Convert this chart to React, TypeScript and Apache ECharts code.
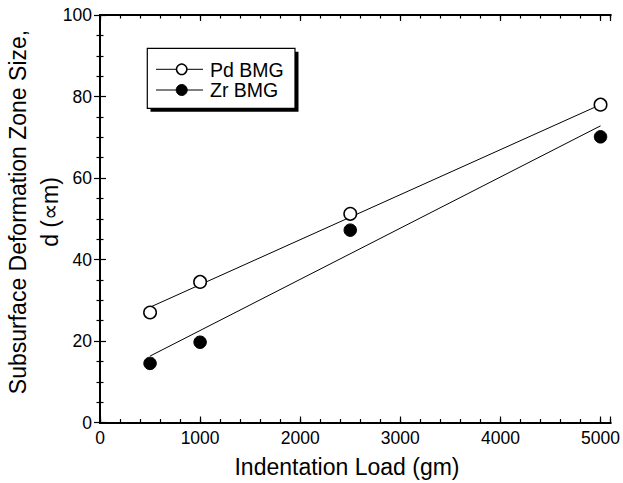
import React, { useEffect, useRef } from "react";
import * as echarts from "echarts";

const loads = [500, 1000, 2500, 5000];
const pdSize = [27.0, 34.5, 51.2, 78.0];
const zrSize = [14.5, 19.7, 47.2, 70.1];
const pdFit = [[500, 28.3], [5000, 78.0]];
const zrFit = [[500, 16.3], [5000, 72.8]];
const xMajorTicks = [0, 1000, 2000, 3000, 4000, 5000];
const yTickLabels = [0, 20, 40, 60, 80, 100];
const seriesNames = ["Pd BMG", "Zr BMG"];

const FONT = "'Liberation Sans', Arial, Helvetica, sans-serif";

export default function App() {
  const ref = useRef<HTMLDivElement>(null);
  useEffect(() => {
    if (!ref.current) return;
    const chart = echarts.init(ref.current, undefined, { renderer: "svg" });
    const axisLine = { show: true, lineStyle: { color: "#000", width: 2 } };
    const xBase = (pos: string, interval: number, tickLen: number, labels: boolean) => ({
      type: "value",
      position: pos,
      min: 0,
      max: 5100,
      interval,
      axisLine,
      splitLine: { show: false },
      axisTick: {
        show: true,
        inside: true,
        length: tickLen,
        lineStyle: { color: "#000", width: 1.2 },
      },
      axisLabel: labels
        ? {
            show: true,
            margin: 6,
            fontSize: 17.5,
            fontFamily: FONT,
            color: "#000",
            formatter: (v: number) => (xMajorTicks.includes(v) ? String(v) : ""),
          }
        : { show: false },
    });
    const yBase = (pos: string, labels: boolean) => ({
      type: "value",
      position: pos,
      min: 0,
      max: 100,
      interval: 20,
      axisLine,
      splitLine: { show: false },
      axisTick: {
        show: true,
        inside: true,
        length: 6,
        lineStyle: { color: "#000", width: 1.2 },
      },
      minorTick: {
        show: true,
        splitNumber: 4,
        length: 3.5,
        lineStyle: { color: "#000", width: 1.2 },
      },
      minorSplitLine: { show: false },
      axisLabel: labels
        ? {
            show: true,
            margin: 8,
            fontSize: 17.5,
            fontFamily: FONT,
            color: "#000",
            formatter: (v: number) => (yTickLabels.includes(v) ? String(v) : ""),
          }
        : { show: false },
    });

    const markerOpen = {
      color: "#fff",
      borderColor: "#000",
      borderWidth: 1.5,
      opacity: 1,
    };
    const markerFilled = { color: "#000", borderColor: "#000", borderWidth: 1, opacity: 1 };

    chart.setOption({
      animation: false,
      backgroundColor: "#fff",
      grid: { left: 100, right: 11, top: 15, bottom: 60.5, containLabel: false },
      xAxis: [
        xBase("bottom", 1000, 6, true),
        xBase("bottom", 200, 3.5, false),
        xBase("top", 1000, 6, false),
        xBase("top", 200, 3.5, false),
      ],
      yAxis: [yBase("left", true), yBase("right", false)],
      series: [
        {
          name: seriesNames[0] + " fit",
          type: "line",
          data: pdFit,
          symbol: "none",
          lineStyle: { color: "#000", width: 1 },
          z: 2,
        },
        {
          name: seriesNames[1] + " fit",
          type: "line",
          data: zrFit,
          symbol: "none",
          lineStyle: { color: "#000", width: 1 },
          z: 2,
        },
        {
          name: seriesNames[0],
          type: "scatter",
          data: loads.map((x, i) => [x, pdSize[i]]),
          symbol: "circle",
          symbolSize: 12.5,
          itemStyle: markerOpen,
          z: 3,
        },
        {
          name: seriesNames[1],
          type: "scatter",
          data: loads.map((x, i) => [x, zrSize[i]]),
          symbol: "circle",
          symbolSize: 12.5,
          itemStyle: markerFilled,
          z: 3,
        },
      ],
      graphic: [
        {
          type: "text",
          x: 18,
          y: 212,
          rotation: Math.PI / 2,
          style: {
            text: "Subsurface Deformation Zone Size,",
            fontSize: 23,
            fontFamily: FONT,
            fill: "#000",
            textAlign: "center",
            textVerticalAlign: "middle",
          },
        },
        {
          type: "text",
          x: 50,
          y: 212,
          rotation: Math.PI / 2,
          style: {
            text: "d (\u221Dm)",
            fontSize: 23,
            fontFamily: FONT,
            fill: "#000",
            textAlign: "center",
            textVerticalAlign: "middle",
          },
        },
        {
          type: "text",
          x: 347,
          y: 467,
          style: {
            text: "Indentation Load (gm)",
            fontSize: 23,
            fontFamily: FONT,
            fill: "#000",
            textAlign: "center",
            textVerticalAlign: "middle",
          },
        },
        {
          type: "rect",
          shape: { x: 150.5, y: 51.8, width: 148, height: 60 },
          style: { fill: "#000" },
          z: 10,
        },
        {
          type: "rect",
          shape: { x: 147.3, y: 48.3, width: 147.7, height: 60 },
          style: { fill: "#fff", stroke: "#000", lineWidth: 1.2 },
          z: 11,
        },
        {
          type: "line",
          shape: { x1: 156, y1: 69.3, x2: 203, y2: 69.3 },
          style: { stroke: "#000", lineWidth: 1 },
          z: 12,
        },
        {
          type: "circle",
          shape: { cx: 181.7, cy: 69.3, r: 5.2 },
          style: { fill: "#fff", stroke: "#000", lineWidth: 1.5 },
          z: 13,
        },
        {
          type: "text",
          x: 210,
          y: 69.5,
          style: {
            text: seriesNames[0],
            fontSize: 19.5,
            fontFamily: FONT,
            fill: "#000",
            textAlign: "left",
            textVerticalAlign: "middle",
          },
          z: 13,
        },
        {
          type: "line",
          shape: { x1: 156, y1: 90, x2: 203, y2: 90 },
          style: { stroke: "#000", lineWidth: 1 },
          z: 12,
        },
        {
          type: "circle",
          shape: { cx: 181.7, cy: 90, r: 5.5 },
          style: { fill: "#000", stroke: "#000", lineWidth: 1 },
          z: 13,
        },
        {
          type: "text",
          x: 210,
          y: 90.2,
          style: {
            text: seriesNames[1],
            fontSize: 19.5,
            fontFamily: FONT,
            fill: "#000",
            textAlign: "left",
            textVerticalAlign: "middle",
          },
          z: 13,
        },
      ],
    });
    return () => chart.dispose();
  }, []);
  return (
    <div
      ref={ref}
      style={{ position: "fixed", left: 0, top: 0, width: 623, height: 483, background: "#fff" }}
    />
  );
}
